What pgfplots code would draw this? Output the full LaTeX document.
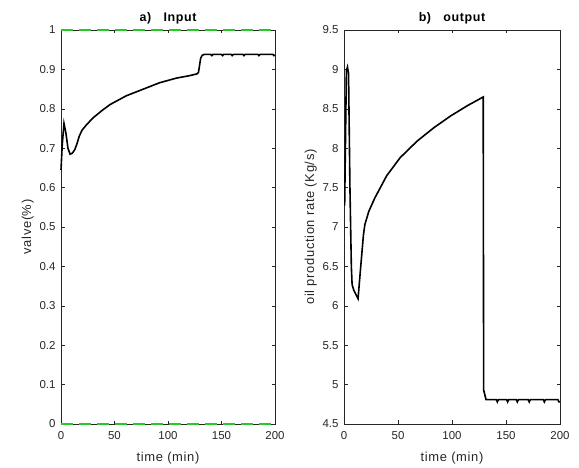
\documentclass[border=0pt]{standalone}
\usepackage{pgfplots}
\pgfplotsset{compat=1.18}
\usepackage{fontspec}
\setmainfont{Liberation Sans}
\newfontfamily\labfont[LetterSpace=5]{Liberation Sans}
\definecolor{axgray}{rgb}{0.15,0.15,0.15}
\definecolor{mgreen}{RGB}{40,200,40}
\pgfplotsset{
  myax/.style={
    scale only axis,
    anchor=south west,
    xmin=0, xmax=200,
    xtick={0,50,100,150,200},
    tick align=inside,
    major tick length=3.5bp,
    axis line style={axgray, line width=0.5bp},
    every tick/.style={axgray, line width=0.5bp},
    tick label style={font=\fontsize{11.5}{13}\selectfont, text=axgray},
    xticklabel style={yshift=-4bp},
    yticklabel style={xshift=-2bp},
    label style={font=\labfont\fontsize{13}{15}\selectfont, text=axgray},
    title style={font=\labfont\fontsize{12.5}{14}\selectfont\bfseries, yshift=-4bp},
    /pgf/number format/assume math mode=true,
    xlabel={time (min)},
    xlabel style={yshift=-6bp},
  }
}
\begin{document}
\begin{tikzpicture}
\path (0,0) rectangle (579bp,468bp);
\begin{axis}[myax, at={(61bp,44bp)}, width=214bp, height=394bp, clip=false,
  ymin=0, ymax=1, ytick={0,0.1,0.2,0.3,0.4,0.5,0.6,0.7,0.8,0.9,1},
  yticklabel style={/pgf/number format/fixed},
  ylabel={valve(\%)}, ylabel style={yshift=-1bp},
  title={a)\ \ \ Input}]
\addplot[mgreen, line width=1.4bp, dash pattern=on 12bp off 6bp] coordinates {(0,1) (200,1)};
\addplot[mgreen, line width=1.4bp, dash pattern=on 12bp off 6bp] coordinates {(0,0) (200,0)};
\addplot[black, line width=1.6bp] coordinates {
(0,0.645) (1.2,0.71) (2.8,0.763) (4.5,0.74) (6.5,0.70) (8.4,0.685) (10.5,0.687) (13,0.697)
(15,0.712) (17,0.73) (19.5,0.745) (24,0.760) (30,0.777) (38,0.795) (46,0.811) (61,0.833)
(77,0.850) (92,0.866) (108,0.878) (120,0.884) (127.5,0.889) (128.5,0.893) (129.5,0.91)
(130.5,0.928) (132,0.936) (134,0.938) (140,0.938) (141,0.935) (142,0.938) (150,0.938)
(151,0.935) (152,0.938) (159,0.938) (160,0.935) (161,0.938) (170,0.938) (171,0.935)
(172,0.938) (184,0.938) (185,0.935) (186,0.938) (198,0.938) (199,0.935) (200,0.936)};
\end{axis}
\begin{axis}[myax, at={(344bp,44bp)}, width=216bp, height=394bp,
  ymin=4.5, ymax=9.5, ytick={4.5,5,5.5,6,6.5,7,7.5,8,8.5,9,9.5},
  ylabel={oil production rate (Kg/s)}, ylabel style={yshift=-1bp},
  title={b)\ \ \ output}]
\addplot[black, line width=1.6bp] coordinates {
(0.6,7.27) (2.2,8.98) (3.2,9.03) (4.2,8.95) (5.5,7.5) (6.8,6.5) (7.5,6.27) (9,6.2)
(13,6.09) (15.5,6.5) (18,6.9) (19.3,7.03) (23,7.2) (28.6,7.37) (39.5,7.65) (52,7.88)
(67.7,8.09) (83.2,8.26) (98.8,8.41) (114.3,8.54) (128.9,8.65) (129.3,4.93) (131.5,4.81)
(141,4.81) (142,4.78) (143,4.81) (150.5,4.81) (151.5,4.78) (152.5,4.81) (159.5,4.81)
(160.5,4.78) (161.5,4.81) (170.5,4.81) (171.5,4.78) (172.5,4.81) (184.5,4.81) (185.5,4.78)
(186.5,4.81) (198,4.81) (199,4.78) (200,4.78)};
\end{axis}
\end{tikzpicture}
\end{document}
